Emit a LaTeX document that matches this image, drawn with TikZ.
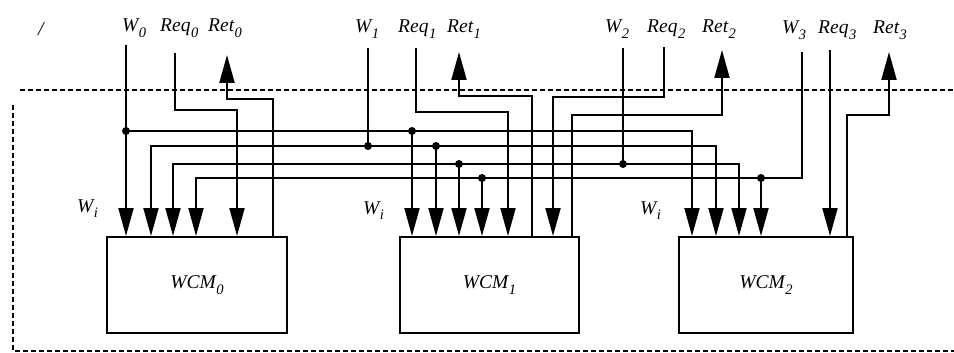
\documentclass[tikz,border=0pt]{standalone}
\usepackage{fontspec}
\setmainfont{Liberation Serif}
\usetikzlibrary{arrows.meta}
\newcommand\lbl[2]{\textit{#1\kern0.5pt\raisebox{-5.5pt}{\fontsize{14.5}{16}\selectfont #2}}}
\begin{document}
\begin{tikzpicture}[x=1pt,y=-1pt,
  wire/.style={line width=2pt},
  arr/.style={wire,-{Triangle[length=28pt,width=15pt]}},
  txt/.style={font=\fontsize{19.5}{22}\selectfont, inner sep=0pt, anchor=base west},
  box/.style={draw, line width=2pt, minimum height=96pt, inner sep=0pt, font=\fontsize{19.5}{22}\selectfont},
  jdot/.style={circle, fill, inner sep=0pt, minimum size=8pt},
  bound/.style={line width=2.2pt, dash pattern=on 5pt off 3pt}]
\useasboundingbox (0,0) rectangle (954,353);

% boundary
\draw[bound] (20,90) -- (954,90);
\draw[bound] (13,105) -- (13,351) -- (954,351);

% boxes
\node[box, minimum width=180pt] (wcm0) at (197,285) {\lbl{WCM}{0}};
\node[box, minimum width=179pt] (wcm1) at (489.5,285) {\lbl{WCM}{1}};
\node[box, minimum width=174pt] (wcm2) at (766,285) {\lbl{WCM}{2}};

% top labels
\node[txt] (slash) at (38,36) {\textit{/}};
\node[txt] (lW0) at (122,32) {\lbl{W}{0}};
\node[txt] (lReq0) at (160,32) {\lbl{Req}{0}};
\node[txt] (lRet0) at (208,32) {\lbl{Ret}{0}};
\node[txt] (lW1) at (355,33) {\lbl{W}{1}};
\node[txt] (lReq1) at (398,33) {\lbl{Req}{1}};
\node[txt] (lRet1) at (447,33) {\lbl{Ret}{1}};
\node[txt] (lW2) at (605,33) {\lbl{W}{2}};
\node[txt] (lReq2) at (647,33) {\lbl{Req}{2}};
\node[txt] (lRet2) at (702,33) {\lbl{Ret}{2}};
\node[txt] (lW3) at (782,34) {\lbl{W}{3}};
\node[txt] (lReq3) at (818,34) {\lbl{Req}{3}};
\node[txt] (lRet3) at (873,34) {\lbl{Ret}{3}};

% W_i labels
\node[txt] (wi0) at (77,212) {\lbl{W}{i}};
\node[txt] (wi1) at (363,214) {\lbl{W}{i}};
\node[txt] (wi2) at (640,214) {\lbl{W}{i}};

% wire start coordinates
\coordinate (sW0) at (126,45);
\coordinate (sReq0) at (175,53);
\coordinate (tRet0) at (227,55);
\coordinate (sW1) at (368,48);
\coordinate (sReq1) at (416,48);
\coordinate (tRet1) at (459,52);
\coordinate (sW2) at (623,48);
\coordinate (sReq2) at (664,47);
\coordinate (tRet2) at (722,50);
\coordinate (sW3) at (802,52);
\coordinate (sReq3) at (830,50);
\coordinate (tRet3) at (889,52);

% junctions / corners
\coordinate (j0) at (126,131);
\coordinate (L1e) at (692,131);
\coordinate (t1a) at (412,131);
\coordinate (jW1) at (368,146);
\coordinate (L2w) at (151,146);
\coordinate (L2e) at (716,146);
\coordinate (t2a) at (436,146);
\coordinate (jW2) at (623,164);
\coordinate (L3w) at (173,164);
\coordinate (L3e) at (739,164);
\coordinate (t3a) at (459,164);
\coordinate (L4w) at (196,178);
\coordinate (t4a) at (482,178);
\coordinate (t4b) at (761,178);

% W buses
\draw[arr] (sW0) -- (sW0 |- wcm0.north);
\draw[arr] (j0) -- (L1e) -- (L1e |- wcm2.north);
\draw[arr] (t1a) -- (t1a |- wcm1.north);

\draw[wire] (sW1) -- (jW1);
\draw[arr] (jW1) -- (L2w) -- (L2w |- wcm0.north);
\draw[arr] (jW1) -- (L2e) -- (L2e |- wcm2.north);
\draw[arr] (t2a) -- (t2a |- wcm1.north);

\draw[wire] (sW2) -- (jW2);
\draw[arr] (jW2) -- (L3w) -- (L3w |- wcm0.north);
\draw[arr] (jW2) -- (L3e) -- (L3e |- wcm2.north);
\draw[arr] (t3a) -- (t3a |- wcm1.north);

\draw[arr] (sW3) |- (L4w) -- (L4w |- wcm0.north);
\draw[arr] (t4a) -- (t4a |- wcm1.north);
\draw[arr] (t4b) -- (t4b |- wcm2.north);

\foreach \j in {j0,t1a,jW1,t2a,jW2,t3a,t4a,t4b}
  \node[jdot] at (\j) {};

% requests and returns
\coordinate (r0) at (237,110);
\coordinate (o0) at (273,99);
\draw[arr] (sReq0) |- (r0) -- (r0 |- wcm0.north);
\draw[arr] (o0 |- wcm0.north) -- (o0) -| (tRet0);

\coordinate (r1) at (508,112);
\coordinate (o1) at (532,96);
\draw[arr] (sReq1) |- (r1) -- (r1 |- wcm1.north);
\draw[arr] (o1 |- wcm1.north) -- (o1) -| (tRet1);

\coordinate (r2) at (553,97);
\coordinate (o2) at (572,115);
\draw[arr] (sReq2) |- (r2) -- (r2 |- wcm1.north);
\draw[arr] (o2 |- wcm1.north) -- (o2) -| (tRet2);

\draw[arr] (sReq3) -- (sReq3 |- wcm2.north);
\coordinate (o3) at (847,115);
\draw[arr] (o3 |- wcm2.north) -- (o3) -| (tRet3);
\end{tikzpicture}
\end{document}
